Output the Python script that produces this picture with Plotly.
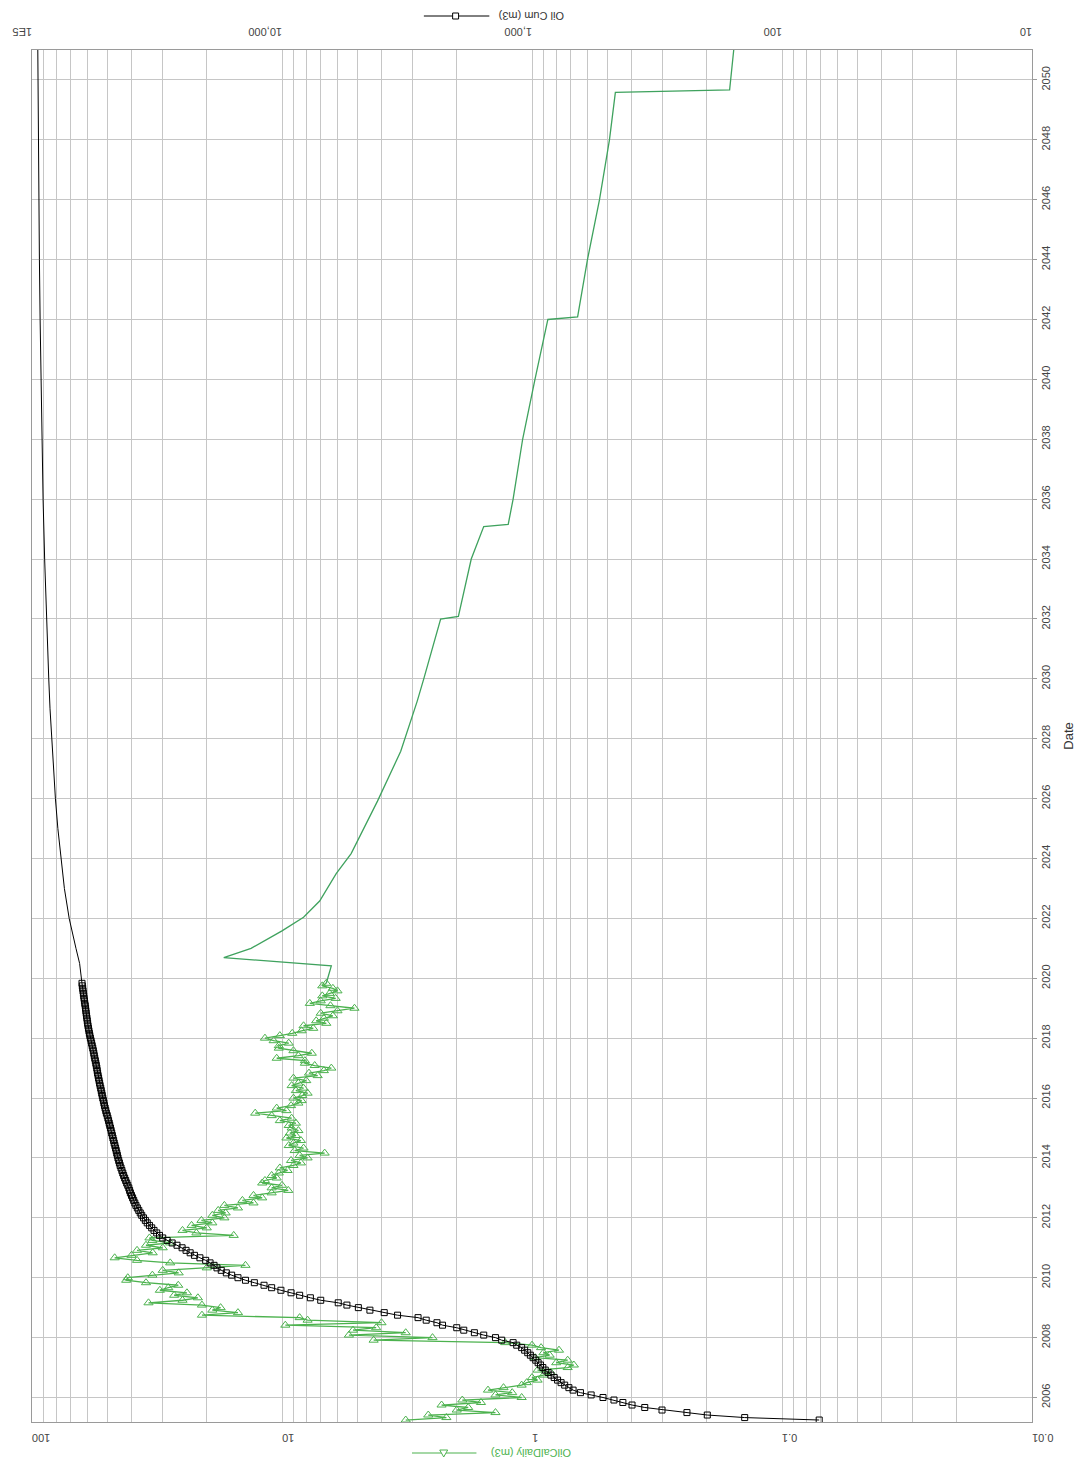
import pandas as pd
import plotly.graph_objects as go

# ---- production history (monthly) ----
hist_dates = [d.strftime("%Y-%m-%d") for d in pd.date_range("2005-04-01", periods=176, freq="MS")]

oil_rate_hist = (
    [3.2, 2.2, 2.6, 1.4, 2.0, 1.8, 2.3, 1.6, 1.9, 1.1]                                # 2005
    + [1.4, 1.2, 1.5, 1.3, 1.1, 1.05, 0.95, 1.0, 0.9, 0.84, 0.95, 0.72]                 # 2006
    + [0.68, 0.8, 0.72, 0.97, 0.85, 0.9, 0.78, 0.92, 1.0, 1.28, 4.3, 2.5]               # 2007
    + [5.4, 3.2, 5.2, 4.2, 9.7, 4.0, 7.9, 8.5, 20.9, 15.0, 19.0, 17.6]                  # 2008
    + [20.9, 34.2, 25.0, 21.7, 27.0, 24.0, 30.8, 28.5, 26.0, 35.0, 42.0, 41.4]          # 2009
    + [33.0, 25.9, 30.0, 20.0, 14.0, 28.0, 38.0, 46.7, 40.0, 32.9, 38.0, 30.0]          # 2010
    + [35.0, 28.0, 33.0, 33.9, 15.6, 22.0, 25.0, 20.0, 23.0, 19.0, 21.0, 17.0]          # 2011
    + [19.0, 16.8, 18.0, 15.0, 17.0, 13.0, 14.4, 12.0, 13.0, 11.0, 9.44, 11.0]          # 2012
    + [10.0, 12.0, 11.7, 10.5, 11.0, 10.3, 9.5, 10.2, 9.0, 8.4, 9.2, 7.9]               # 2013
    + [8.5, 6.75, 8.9, 8.2, 9.4, 9.0, 8.4, 9.6, 8.8, 9.3, 8.6, 9.15]                    # 2014
    + [9.4, 8.8, 10.2, 9.15, 11.0, 12.8, 9.6, 10.5, 9.2, 8.6, 8.35, 9.0]                # 2015
    + [8.3, 7.9, 8.8, 8.2, 9.15, 8.6, 8.0, 9.0, 7.2, 7.8, 6.8, 6.35]                    # 2016
    + [7.4, 8.1, 8.1, 10.5, 8.6, 7.6, 9.0, 10.3, 10.3, 9.4, 10.8, 11.7]                 # 2017
    + [10.2, 9.1, 8.35, 7.5, 8.2, 6.65, 7.3, 6.8, 6.26, 7.0, 6.0, 5.13]                 # 2018
    + [6.4, 7.74, 7.0, 6.1, 6.9, 6.45, 6.0, 6.26, 6.9, 6.65]                            # 2019
)

oil_cum_hist = (
    [71, 141, 199, 240, 302, 354, 398, 433, 470, 520]                                   # 2005
    + [580, 640, 685, 712, 740, 765, 790, 815, 840, 862, 885, 905]                      # 2006
    + [925, 945, 966, 990, 1015, 1040, 1070, 1100, 1151, 1190, 1322, 1400]              # 2007
    + [1560, 1700, 1875, 2000, 2280, 2400, 2650, 2856, 3450, 3900, 4450, 4950]          # 2008
    + [5500, 5957, 7000, 7700, 8500, 9200, 10100, 11000, 11800, 12900, 14000, 15000]    # 2009
    + [15900, 16700, 17500, 18200, 18700, 19400, 20200, 21300, 22400, 23300, 24200, 25100]  # 2010
    + [26300, 27500, 28800, 30000, 30900, 31700, 32500, 33200, 33900, 34600, 35200, 35800]  # 2011
    + [36400, 36900, 37400, 37900, 38400, 38800, 39200, 39600, 40000, 40400, 40700, 41000]  # 2012
    + [41400, 41800, 42200, 42600, 43000, 43350, 43700, 44050, 44400, 44700, 45000, 45300]  # 2013
    + [45550, 45800, 46050, 46300, 46600, 46900, 47150, 47450, 47700, 48000, 48250, 48550]  # 2014
    + [48850, 49100, 49400, 49700, 50000, 50400, 50700, 51000, 51300, 51550, 51800, 52100]  # 2015
    + [52350, 52600, 52850, 53100, 53400, 53650, 53900, 54150, 54400, 54650, 54850, 55050]  # 2016
    + [55300, 55550, 55800, 56100, 56350, 56600, 56850, 57150, 57450, 57750, 58050, 58400]  # 2017
    + [58700, 58950, 59200, 59450, 59700, 59900, 60100, 60300, 60500, 60700, 60900, 61050]  # 2018
    + [61250, 61500, 61700, 61900, 62100, 62300, 62500, 62700, 62900, 63100]                # 2019
)

# ---- forecast ----
fc_rate_dates = ["2020-06-01", "2020-09-10", "2021-01-01", "2021-08-01", "2022-01-15", "2022-08-01",
                 "2023-07-01", "2024-03-01", "2025-12-01", "2027-08-01", "2029-04-01", "2030-01-01",
                 "2031-12-31", "2032-02-01", "2034-01-01", "2035-02-01", "2035-03-01", "2036-01-01",
                 "2038-01-01", "2040-01-01", "2042-01-01", "2042-02-01", "2044-01-01", "2046-01-01",
                 "2048-01-01", "2049-08-01", "2049-09-01", "2051-01-01"]
fc_rate = [6.35, 17.1, 13.3, 10.0, 8.2, 7.07, 6.07, 5.29, 4.15, 3.35, 2.88, 2.71,
           2.32, 1.97, 1.75, 1.56, 1.245, 1.19, 1.09, 0.973, 0.864, 0.657, 0.60, 0.537,
           0.49, 0.464, 0.162, 0.156]

fc_cum_dates = ["2020-06-30", "2020-12-31", "2021-12-31", "2022-12-31", "2023-12-31", "2024-12-31",
                "2025-12-31", "2026-12-31", "2027-12-31", "2028-12-31", "2029-12-31", "2031-12-31",
                "2033-12-31", "2035-12-31", "2037-12-31", "2039-12-31", "2041-12-31", "2043-12-31",
                "2045-12-31", "2047-12-31", "2049-12-31", "2051-01-01"]
fc_cum = [64500, 66700, 71000, 74200, 76700, 78800, 80600, 82100, 83500, 84700, 85700, 87500,
          89000, 90300, 91300, 92100, 92800, 93400, 93900, 94300, 94700, 94800]

rate_ticks = [0.01, 0.1, 1, 10, 100]
rate_ticktext = ["0.01", "0.1", "1", "10", "100"]
cum_ticks = [10, 100, 1000, 10000, 100000]
cum_ticktext = ["10", "100", "1,000", "10,000", "1E5"]

GREEN = "#4cb24e"
GREEN_FC = "#3fa25e"
GRID = "#c6c6c6"
FRAME = "#9a9a9a"
FONT = "Liberation Sans, Arial, sans-serif"

W, H = 1085, 1469
L, R, T, B = 25, 52, 50, 47
PW, PH = W - L - R, H - T - B


def px(x):
    return (x - L) / PW


def py(y):
    return (H - B - y) / PH


minor_vals = [d * 10 ** k for k in range(-2, 2) for d in range(2, 10)]

fig = go.Figure()

fig.add_trace(go.Scatter(
    x=[oil_rate_hist[-1]] + fc_rate, y=[hist_dates[-1]] + fc_rate_dates,
    xaxis="x", yaxis="y", mode="lines",
    line=dict(color=GREEN_FC, width=1.3), showlegend=False, hoverinfo="skip"))
fig.add_trace(go.Scatter(
    x=oil_rate_hist, y=hist_dates, xaxis="x", yaxis="y", mode="lines+markers",
    name="OilCalDaily (m3)",
    line=dict(color=GREEN, width=1.3),
    marker=dict(symbol="triangle-up-open", size=8, color=GREEN, line=dict(width=1))))
fig.add_trace(go.Scatter(
    x=[oil_cum_hist[-1]] + fc_cum, y=[hist_dates[-1]] + fc_cum_dates,
    xaxis="x2", yaxis="y", mode="lines",
    line=dict(color="black", width=1), showlegend=False, hoverinfo="skip"))
fig.add_trace(go.Scatter(
    x=oil_cum_hist, y=hist_dates, xaxis="x2", yaxis="y", mode="lines+markers",
    name="Oil Cum (m3)",
    line=dict(color="black", width=1),
    marker=dict(symbol="square-open", size=6, color="black", line=dict(width=1))))

tickfont = dict(family=FONT, size=11, color="#444")

fig.update_layout(
    width=W, height=H, autosize=False,
    margin=dict(l=L, r=R, t=T, b=B, pad=0),
    paper_bgcolor="white", plot_bgcolor="white",
    showlegend=False,
    font=dict(family=FONT, color="#444"),
    xaxis=dict(
        type="log", range=[2, -2], side="bottom",
        tickmode="array", tickvals=rate_ticks, ticktext=rate_ticktext,
        tickangle=180, tickfont=tickfont, ticks="", ticklabelstandoff=9,
        showgrid=True, gridcolor=GRID, gridwidth=1,
        minor=dict(tickmode="array", tickvals=minor_vals, showgrid=True,
                   gridcolor=GRID, gridwidth=1, ticks=""),
        showline=True, linecolor=FRAME, linewidth=1, zeroline=False,
    ),
    xaxis2=dict(
        type="log", range=[5, 1], side="top", overlaying="x",
        tickmode="array", tickvals=cum_ticks, ticktext=cum_ticktext,
        tickangle=180, tickfont=tickfont, ticks="", ticklabelstandoff=6,
        showgrid=False, showline=True, linecolor=FRAME, linewidth=1, zeroline=False,
    ),
    yaxis=dict(
        type="date", side="right",
        range=["2005-03-08", "2051-01-01"],
        tick0="2006-01-01", dtick="M24", tickformat="%Y",
        tickangle=-90, tickfont=tickfont,
        ticks="outside", ticklen=4, tickcolor=FRAME,
        showgrid=True, gridcolor=GRID, gridwidth=1,
        showline=True, linecolor=FRAME, linewidth=1, mirror=True, zeroline=False,
        title=dict(text="Date", font=dict(family=FONT, size=13, color="#333"), standoff=12),
    ),
)

# Legend keys drawn around the axis captions
shapes = [
    dict(type="line", xref="paper", yref="paper", x0=px(420), x1=px(486), y0=py(16), y1=py(16),
         line=dict(color="black", width=1)),
    dict(type="rect", xref="paper", yref="paper", x0=px(449), x1=px(455), y0=py(13), y1=py(19),
         line=dict(color="black", width=1), fillcolor="white"),
    dict(type="line", xref="paper", yref="paper", x0=px(408), x1=px(473), y0=py(1453), y1=py(1453),
         line=dict(color=GREEN, width=1.2)),
    dict(type="path", xref="paper", yref="paper",
         path=f"M {px(436)} {py(1450)} L {px(444)} {py(1450)} L {px(440)} {py(1457)} Z",
         line=dict(color=GREEN, width=1), fillcolor="white"),
]
fig.update_layout(shapes=shapes)

fig.add_annotation(text="Oil Cum (m3)", xref="paper", yref="paper", x=px(529), y=py(16),
                   xanchor="center", yanchor="middle", showarrow=False, textangle=180,
                   font=dict(family=FONT, size=11, color="#333"))
fig.add_annotation(text="OilCalDaily (m3)", xref="paper", yref="paper", x=px(528), y=py(1453),
                   xanchor="center", yanchor="middle", showarrow=False, textangle=180,
                   font=dict(family=FONT, size=11, color=GREEN))

fig.write_html("out.html", config={"displayModeBar": False})
